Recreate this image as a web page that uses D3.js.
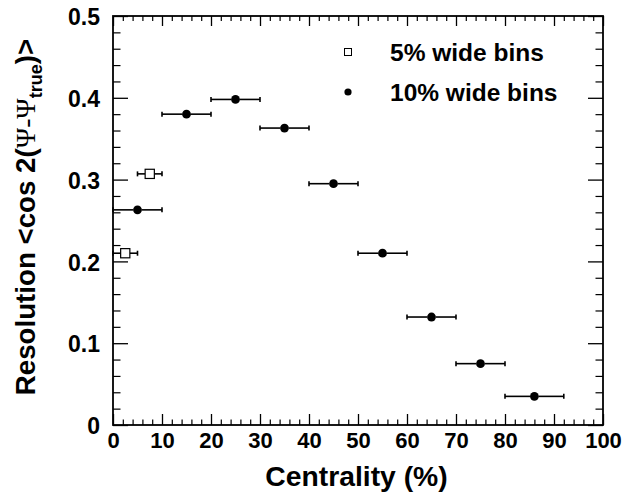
<!DOCTYPE html>
<html>
<head>
<meta charset="utf-8">
<script src="https://cdn.jsdelivr.net/npm/d3@7"></script>
<style>
html,body{margin:0;padding:0;background:#fff;}
svg{display:block;}
</style>
</head>
<body>
<svg id="chart" width="639" height="497"></svg>
<script>
// ---- data ----
const narrowX = [2.5, 7.5];
const narrowY = [0.210, 0.307];
const narrowXLow = [0, 5];
const narrowXHigh = [5, 10];

const wideX = [5, 15, 25, 35, 45, 55, 65, 75, 86];
const wideY = [0.263, 0.380, 0.398, 0.363, 0.295, 0.210, 0.132, 0.075, 0.035];
const wideXLow = [0, 10, 20, 30, 40, 50, 60, 70, 80];
const wideXHigh = [10, 20, 30, 40, 50, 60, 70, 80, 92];

const xTicks = [0, 10, 20, 30, 40, 50, 60, 70, 80, 90, 100];
const yTicks = [0, 0.1, 0.2, 0.3, 0.4, 0.5];
const yTickLabels = ["0", "0.1", "0.2", "0.3", "0.4", "0.5"];
const legendLabels = ["5% wide bins", "10% wide bins"];

// ---- layout ----
const svg = d3.select("#chart");
const L = 113, R = 603, T = 16, B = 425;
const x = d3.scaleLinear().domain([0, 100]).range([L, R]);
const y = d3.scaleLinear().domain([0, 0.5]).range([B, T]);
const sans = "'Liberation Sans', Arial, Helvetica, sans-serif";

// minor tick values
const xMinor = d3.range(0, 101, 2).filter(v => v % 10 !== 0);
const yMinor = d3.range(0, 51, 2).map(v => v / 100).filter(v => Math.round(v * 100) % 10 !== 0);

const g = svg.append("g");

// bottom axis (ticks inward)
const xAxisB = d3.axisBottom(x).tickValues(xTicks).tickSizeInner(-11).tickSizeOuter(0).tickFormat(d => d);
const gxb = g.append("g").attr("transform", `translate(0,${B})`).call(xAxisB);
gxb.select(".domain").remove();
gxb.selectAll("line").attr("stroke", "#000").attr("stroke-width", 1.3);
gxb.selectAll("text").attr("font-family", sans).attr("font-weight", "bold").attr("font-size", 22)
  .attr("y", 0).attr("dy", 0).attr("transform", "translate(0,23)").attr("fill", "#000");
const xMinorB = d3.axisBottom(x).tickValues(xMinor).tickSizeInner(-5.5).tickSizeOuter(0).tickFormat("");
const gxbm = g.append("g").attr("transform", `translate(0,${B})`).call(xMinorB);
gxbm.select(".domain").remove();
gxbm.selectAll("line").attr("stroke", "#000").attr("stroke-width", 1.2);

// top axis (ticks inward)
const xAxisT = d3.axisTop(x).tickValues(xTicks).tickSizeInner(-10).tickSizeOuter(0).tickFormat("");
const gxt = g.append("g").attr("transform", `translate(0,${T})`).call(xAxisT);
gxt.select(".domain").remove();
gxt.selectAll("line").attr("stroke", "#000").attr("stroke-width", 1.3);
const xMinorT = d3.axisTop(x).tickValues(xMinor).tickSizeInner(-5).tickSizeOuter(0).tickFormat("");
const gxtm = g.append("g").attr("transform", `translate(0,${T})`).call(xMinorT);
gxtm.select(".domain").remove();
gxtm.selectAll("line").attr("stroke", "#000").attr("stroke-width", 1.2);

// left axis
const yAxisL = d3.axisLeft(y).tickValues(yTicks).tickSizeInner(-15).tickSizeOuter(0)
  .tickFormat((d, i) => yTickLabels[i]);
const gyl = g.append("g").attr("transform", `translate(${L},0)`).call(yAxisL);
gyl.select(".domain").remove();
gyl.selectAll("line").attr("stroke", "#000").attr("stroke-width", 1.3);
gyl.selectAll("text").attr("font-family", sans).attr("font-weight", "bold").attr("font-size", 23)
  .attr("x", -13).attr("dy", "0.38em").attr("fill", "#000");
const yMinorL = d3.axisLeft(y).tickValues(yMinor).tickSizeInner(-7.5).tickSizeOuter(0).tickFormat("");
const gylm = g.append("g").attr("transform", `translate(${L},0)`).call(yMinorL);
gylm.select(".domain").remove();
gylm.selectAll("line").attr("stroke", "#000").attr("stroke-width", 1.2);

// right axis
const yAxisR = d3.axisRight(y).tickValues(yTicks).tickSizeInner(-15).tickSizeOuter(0).tickFormat("");
const gyr = g.append("g").attr("transform", `translate(${R},0)`).call(yAxisR);
gyr.select(".domain").remove();
gyr.selectAll("line").attr("stroke", "#000").attr("stroke-width", 1.3);
const yMinorR = d3.axisRight(y).tickValues(yMinor).tickSizeInner(-7.5).tickSizeOuter(0).tickFormat("");
const gyrm = g.append("g").attr("transform", `translate(${R},0)`).call(yMinorR);
gyrm.select(".domain").remove();
gyrm.selectAll("line").attr("stroke", "#000").attr("stroke-width", 1.2);

// frame
g.append("rect").attr("x", L).attr("y", T).attr("width", R - L).attr("height", B - T)
  .attr("fill", "none").attr("stroke", "#000").attr("stroke-width", 1.8);

// ---- error bars + markers ----
function drawSeries(xs, ys, lo, hi, halfMarker, drawMarker) {
  const d = xs.map((v, i) => ({x: v, y: ys[i], lo: lo[i], hi: hi[i]}));
  const eg = g.append("g").attr("stroke", "#000").attr("stroke-width", 1.6);
  d.forEach(p => {
    const cy = y(p.y);
    eg.append("line").attr("x1", x(p.lo)).attr("x2", x(p.x) - halfMarker).attr("y1", cy).attr("y2", cy);
    eg.append("line").attr("x1", x(p.x) + halfMarker).attr("x2", x(p.hi)).attr("y1", cy).attr("y2", cy);
    eg.append("line").attr("x1", x(p.lo)).attr("x2", x(p.lo)).attr("y1", cy - 2.5).attr("y2", cy + 2.5);
    eg.append("line").attr("x1", x(p.hi)).attr("x2", x(p.hi)).attr("y1", cy - 2.5).attr("y2", cy + 2.5);
  });
  d.forEach(p => drawMarker(x(p.x), y(p.y)));
}

drawSeries(wideX, wideY, wideXLow, wideXHigh, 4.3, (cx, cy) => {
  g.append("circle").attr("cx", cx).attr("cy", cy).attr("r", 4.4).attr("fill", "#000");
});
drawSeries(narrowX, narrowY, narrowXLow, narrowXHigh, 4.6, (cx, cy) => {
  g.append("rect").attr("x", cx - 4.6).attr("y", cy - 4.6).attr("width", 9.2).attr("height", 9.2)
    .attr("fill", "#fff").attr("stroke", "#000").attr("stroke-width", 1.2);
});

// ---- legend ----
g.append("rect").attr("x", 348 - 3.5).attr("y", 52 - 3.5).attr("width", 7).attr("height", 7)
  .attr("fill", "#fff").attr("stroke", "#000").attr("stroke-width", 1);
g.append("circle").attr("cx", 348).attr("cy", 92).attr("r", 3.6).attr("fill", "#000");
g.selectAll(".leg").data(legendLabels).enter().append("text")
  .attr("x", 390).attr("y", (d, i) => 61 + i * 40)
  .attr("font-family", sans).attr("font-weight", "bold").attr("font-size", 24.5).attr("fill", "#000")
  .text(d => d);

// ---- axis titles ----
g.append("text").attr("x", 356.5).attr("y", 486).attr("text-anchor", "middle")
  .attr("font-family", sans).attr("font-weight", "bold").attr("font-size", 28.3).attr("fill", "#000")
  .text("Centrality (%)");

const yt = g.append("text").attr("transform", "translate(35,217) rotate(-90)")
  .attr("text-anchor", "middle").attr("font-family", sans).attr("font-weight", "bold")
  .attr("font-size", 27.7).attr("fill", "#000");
yt.append("tspan").text("Resolution <cos 2(");
yt.append("tspan").attr("font-family", "'Liberation Serif', 'DejaVu Serif', serif").attr("font-weight", "normal").text("Ψ-Ψ");
yt.append("tspan").attr("font-size", 18).attr("dy", 7).text("true");
yt.append("tspan").attr("dy", -7).text(")>");
</script>
</body>
</html>
